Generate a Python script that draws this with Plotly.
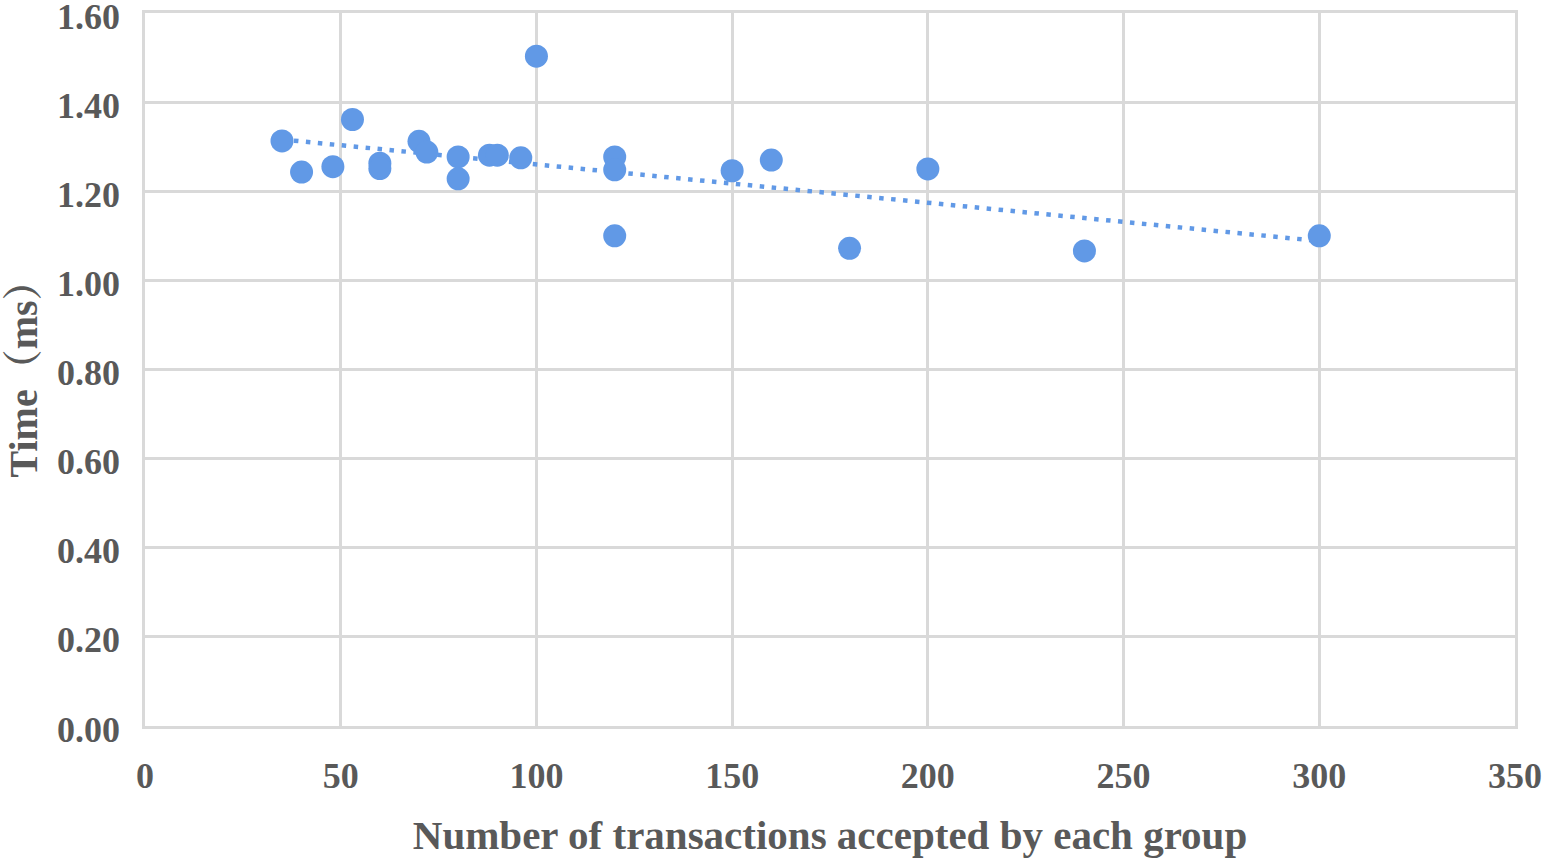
import numpy as np
import plotly.graph_objects as go

# Data
transactions = [35, 40, 48, 53, 60, 60, 70, 72, 80, 80, 88, 90, 96, 100,
                120, 120, 120, 150, 160, 180, 200, 240, 300]
time_ms = [1.313, 1.243, 1.255, 1.361, 1.263, 1.251, 1.312, 1.288, 1.277, 1.228,
           1.281, 1.281, 1.275, 1.503, 1.277, 1.248, 1.100, 1.246, 1.270, 1.072,
           1.250, 1.066, 1.100]
x_ticks = [0, 50, 100, 150, 200, 250, 300, 350]
y_ticks = [0.0, 0.2, 0.4, 0.6, 0.8, 1.0, 1.2, 1.4, 1.6]

# Linear trendline (least squares), drawn over the data range
slope, intercept = np.polyfit(transactions, time_ms, 1)
trend_x = [min(transactions), max(transactions)]
trend_y = [slope * v + intercept for v in trend_x]

color = "#6199E6"
text_color = "#595959"
grid_color = "#D9D9D9"
font_family = "Liberation Serif, Times New Roman, Noto Serif CJK SC, Noto Sans CJK SC, serif"

fig = go.Figure()
fig.add_trace(go.Scatter(
    x=trend_x, y=trend_y, mode="lines",
    line=dict(color=color, width=4.5, dash="4.5px,7.5px"),
    hoverinfo="skip", showlegend=False,
))
fig.add_trace(go.Scatter(
    x=transactions, y=time_ms, mode="markers",
    marker=dict(color=color, size=23, line=dict(width=0)),
    showlegend=False,
))

fig.update_layout(
    width=1542, height=858,
    margin=dict(l=145, r=27, t=13, b=132),
    paper_bgcolor="white", plot_bgcolor="white",
    font=dict(family=font_family, color=text_color, size=36),
)
fig.update_xaxes(
    range=[0, 350], tickvals=x_ticks, ticktext=[str(v) for v in x_ticks],
    showgrid=True, gridcolor=grid_color, gridwidth=2.5,
    showline=True, linecolor=grid_color, linewidth=2.5, mirror=True,
    zeroline=False, ticks="", ticklabelstandoff=16,
    automargin=False, ticklabeloverflow="allow",
    tickfont=dict(family=font_family, size=36, color=text_color, weight="bold"),
    title=dict(text="<b>Number of transactions accepted by each group</b>",
               font=dict(family=font_family, size=41, color=text_color), standoff=29),
)
fig.update_yaxes(
    range=[0, 1.6], tickvals=y_ticks, ticktext=[f"{v:.2f}" for v in y_ticks],
    showgrid=True, gridcolor=grid_color, gridwidth=2.5,
    showline=True, linecolor=grid_color, linewidth=2.5, mirror=True,
    zeroline=False, ticks="", ticklabelstandoff=15, ticklabelshift=3,
    automargin=False, ticklabeloverflow="allow",
    tickfont=dict(family=font_family, size=36, color=text_color, weight="bold"),
)
fig.add_annotation(
    text="<b>Time（ms）</b>", textangle=-90,
    x=0, xref="paper", xanchor="center", xshift=-122,
    y=0.5, yref="paper", yanchor="middle",
    showarrow=False,
    font=dict(family=font_family, size=40, color=text_color),
)

fig.write_html(
    "out.html",
    config={"displayModeBar": False},
    post_script="document.body.style.margin='0';document.body.style.overflow='hidden';",
)
